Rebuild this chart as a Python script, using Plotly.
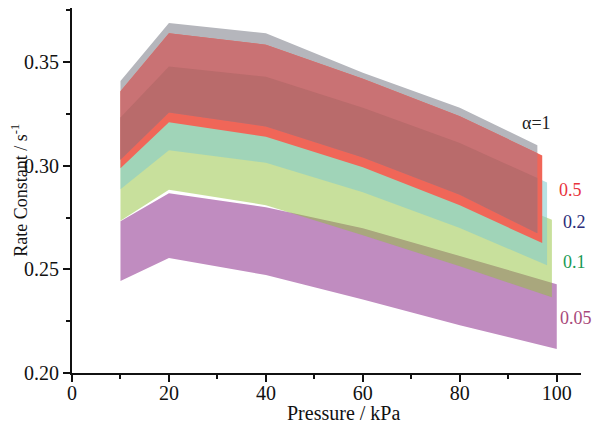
import plotly.graph_objects as go
import numpy as np

# band boundaries (pressure in kPa, rate constant in s^-1)
x_purple = [10, 20, 40, 60, 80, 100]
purple_top = [0.2733, 0.2868, 0.2800, 0.2699, 0.2565, 0.2429]
purple_bot = [0.2444, 0.2555, 0.2473, 0.2355, 0.2231, 0.2116]

x_green = [10, 20, 40, 60, 80, 99]
green_top = [0.305, 0.330, 0.325, 0.310, 0.292, 0.274]
green_bot = [0.2735, 0.2885, 0.2810, 0.2665, 0.2515, 0.2366]

x_teal = [10, 20, 40, 60, 80, 98]
teal_top = [0.3234, 0.348, 0.343, 0.328, 0.311, 0.292]
teal_bot = [0.2887, 0.3075, 0.3015, 0.2873, 0.2700, 0.2520]

x_gray = [10, 20, 40, 60, 80, 96]
gray_top = [0.341, 0.369, 0.364, 0.345, 0.328, 0.310]
gray_bot = [0.303, 0.3258, 0.319, 0.304, 0.286, 0.2675]

x_red = [10, 20, 40, 60, 80, 97]
red_top = [0.336, 0.364, 0.3585, 0.342, 0.324, 0.305]
red_bot = [0.2988, 0.321, 0.314, 0.2993, 0.281, 0.2627]

labels = ["α=1", "0.5", "0.2", "0.1", "0.05"]

fig = go.Figure()


def band(x, top, bot, color):
    x = np.asarray(x, dtype=float)
    fig.add_trace(go.Scatter(
        x=np.concatenate([x, x[::-1]]),
        y=np.concatenate([np.asarray(top), np.asarray(bot)[::-1]]),
        fill="toself", fillcolor=color, mode="lines",
        line=dict(width=0, color="rgba(0,0,0,0)"),
        hoverinfo="skip", showlegend=False,
    ))


band(x_purple, purple_top, purple_bot, "rgb(192,140,192)")
band(x_green, green_top, green_bot, "rgba(145,193,57,0.5)")
band(x_teal, teal_top, teal_bot, "rgba(128,203,207,0.556)")
band(x_gray, gray_top, gray_bot, "rgb(181,182,188)")
band(x_red, red_top, red_bot, "rgb(240,102,88)")
# red over gray, and red over gray over teal
band(x_gray, np.interp(x_gray, x_red, red_top), gray_bot, "rgb(201,114,116)")
band(x_gray, np.interp(x_gray, x_teal, teal_top), gray_bot, "rgb(185,107,107)")

serif = "Liberation Serif, Times New Roman, serif"
label_pos = [(92.4, 0.3207), (100.0, 0.2883), (100.8, 0.2729), (100.8, 0.2536), (100.2, 0.2265)]
label_col = ["#222222", "#e8333c", "#2b2d78", "#1a9a55", "#a8497a"]
for txt, (lx, ly), col in zip(labels, label_pos, label_col):
    fig.add_annotation(x=lx, y=ly, text=txt, showarrow=False, xanchor="left", yanchor="middle",
                       font=dict(family=serif, size=18, color=col))

# axis titles
fig.add_annotation(x=56, y=0, yref="paper", yshift=-40, xanchor="center", yanchor="middle",
                   text="Pressure / kPa", showarrow=False,
                   font=dict(family=serif, size=20, color="#111111"))
fig.add_annotation(x=0, xref="paper", xshift=-52, y=0.288, xanchor="center", yanchor="middle",
                   text="Rate Constant / s<sup>-1</sup>", textangle=-90, showarrow=False,
                   font=dict(family=serif, size=18, color="#111111"))

axis_common = dict(
    showgrid=False, zeroline=False, showline=True, linecolor="#111111", linewidth=2,
    ticks="outside", ticklen=7, tickwidth=2, tickcolor="#111111", automargin=False,
    tickfont=dict(family=serif, size=20, color="#111111"),
)

# the page body adds an 8px offset, so the figure is sized to fit inside the window
fig.update_layout(
    width=592, height=415,
    plot_bgcolor="white", paper_bgcolor="white",
    margin=dict(l=64, r=19, t=0, b=50),
    xaxis=dict(range=[0, 105], dtick=20, tick0=0, ticklabelstandoff=-6,
               minor=dict(dtick=10, ticks="outside", ticklen=4, tickcolor="#111111", tickwidth=2),
               **axis_common),
    yaxis=dict(range=[0.20, 0.3762], dtick=0.05, tick0=0.20, tickformat=".2f",
               minor=dict(dtick=0.025, ticks="outside", ticklen=4, tickcolor="#111111", tickwidth=2),
               **axis_common),
)

fig.write_html("out.html")
